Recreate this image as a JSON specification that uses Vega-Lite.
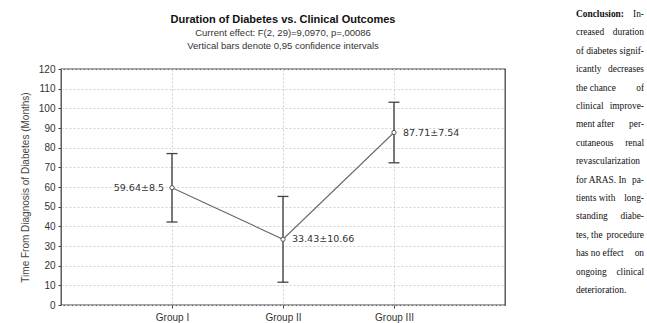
{
  "$schema": "https://vega.github.io/schema/vega-lite/v6.json",
  "background": "white",
  "padding": {"left": 19, "top": 9, "right": 0, "bottom": 0},
  "bounds": "flush",
  "spacing": 71,
  "config": {
    "view": {"stroke": null},
    "font": "Liberation Sans",
    "axis": {
      "labelFont": "Liberation Sans",
      "labelFontSize": 10,
      "labelColor": "#333",
      "tickColor": "#444",
      "tickSize": 3,
      "domain": false,
      "grid": true,
      "gridColor": "#d2d2d2",
      "gridDash": [2, 2],
      "gridWidth": 1,
      "titleFont": "Liberation Sans",
      "titleFontSize": 10,
      "titleFontWeight": "normal",
      "titleColor": "#444"
    },
    "axisY": {"tickCount": 12, "labelPadding": 3, "titlePadding": 8},
    "axisX": {"labelPadding": 4}
  },
  "datasets": {
    "groups": [
      {"group": "Group I", "mean": 59.64, "lo": 42.2, "hi": 77.0, "label": "59.64±8.5"},
      {"group": "Group II", "mean": 33.43, "lo": 11.6, "hi": 55.2, "label": "33.43±10.66"},
      {"group": "Group III", "mean": 87.71, "lo": 72.3, "hi": 103.1, "label": "87.71±7.54"}
    ],
    "lines": [
      {"line": 0, "head": "Conclusion:", "tail": "In-"},
      {"line": 1, "head": "creased", "tail": "duration"},
      {"line": 2, "head": "of diabetes", "tail": "signif-"},
      {"line": 3, "head": "icantly", "tail": "decreases"},
      {"line": 4, "head": "the chance", "tail": "of"},
      {"line": 5, "head": "clinical", "tail": "improve-"},
      {"line": 6, "head": "ment after", "tail": "per-"},
      {"line": 7, "head": "cutaneous", "tail": "renal"},
      {"line": 8, "head": "revascularization", "tail": null},
      {"line": 9, "head": "for ARAS. In", "tail": "pa-"},
      {"line": 10, "head": "tients with", "tail": "long-"},
      {"line": 11, "head": "standing", "tail": "diabe-"},
      {"line": 12, "head": "tes, the", "tail": "procedure"},
      {"line": 13, "head": "has no effect", "tail": "on"},
      {"line": 14, "head": "ongoing", "tail": "clinical"},
      {"line": 15, "head": "deterioration.", "tail": null}
    ]
  },
  "hconcat": [
    {
      "width": 444,
      "height": 236,
      "title": {
        "text": "Duration of Diabetes vs. Clinical Outcomes",
        "subtitle": ["Current effect: F(2, 29)=9,0970, p=,00086", "Vertical bars denote 0,95 confidence intervals"],
        "anchor": "middle",
        "font": "Liberation Sans",
        "fontSize": 11,
        "fontWeight": "bold",
        "color": "#111",
        "subtitleFont": "Liberation Sans",
        "subtitleFontSize": 9.5,
        "subtitleColor": "#333",
        "subtitlePadding": 3,
        "subtitleLineHeight": 13,
        "offset": 14
      },
      "view": {"stroke": "#444", "strokeWidth": 1.3, "fill": "white"},
      "data": {"name": "groups"},
      "encoding": {
        "x": {
          "field": "group",
          "type": "nominal",
          "sort": null,
          "scale": {"type": "point", "padding": 1},
          "axis": {"title": null, "labelAngle": 0}
        }
      },
      "layer": [
        {
          "mark": {"type": "line", "color": "#6a6a6a", "strokeWidth": 1.1},
          "encoding": {
            "y": {"field": "mean", "type": "quantitative", "title": "Time From Diagnosis of Diabetes (Months)", "scale": {"domain": [0, 120], "nice": false, "zero": true}}
          }
        },
        {
          "mark": {"type": "rule", "color": "#444", "strokeWidth": 1.4},
          "encoding": {
            "y": {"field": "lo", "type": "quantitative", "title": "Time From Diagnosis of Diabetes (Months)"},
            "y2": {"field": "hi"}
          }
        },
        {
          "mark": {"type": "tick", "orient": "horizontal", "size": 11, "thickness": 1.3, "color": "#444", "opacity": 1},
          "encoding": {
            "y": {"field": "lo", "type": "quantitative", "title": "Time From Diagnosis of Diabetes (Months)"}
          }
        },
        {
          "mark": {"type": "tick", "orient": "horizontal", "size": 11, "thickness": 1.3, "color": "#444", "opacity": 1},
          "encoding": {
            "y": {"field": "hi", "type": "quantitative", "title": "Time From Diagnosis of Diabetes (Months)"}
          }
        },
        {
          "mark": {"type": "point", "shape": "circle", "filled": true, "fill": "white", "stroke": "#555", "strokeWidth": 1, "size": 18, "opacity": 1},
          "encoding": {
            "y": {"field": "mean", "type": "quantitative", "title": "Time From Diagnosis of Diabetes (Months)"}
          }
        },
        {
          "transform": [{"filter": "datum.group === 'Group I'"}],
          "mark": {"type": "text", "align": "right", "baseline": "middle", "dx": -8, "font": "DejaVu Sans", "fontSize": 9.5, "color": "#333"},
          "encoding": {
            "y": {"field": "mean", "type": "quantitative", "title": "Time From Diagnosis of Diabetes (Months)"},
            "text": {"field": "label"}
          }
        },
        {
          "transform": [{"filter": "datum.group !== 'Group I'"}],
          "mark": {"type": "text", "align": "left", "baseline": "middle", "dx": 9, "font": "DejaVu Sans", "fontSize": 9.5, "color": "#333"},
          "encoding": {
            "y": {"field": "mean", "type": "quantitative", "title": "Time From Diagnosis of Diabetes (Months)"},
            "text": {"field": "label"}
          }
        }
      ]
    },
    {
      "width": 68,
      "height": 236,
      "view": {"stroke": null},
      "data": {"name": "lines"},
      "encoding": {
        "y": {"field": "line", "type": "quantitative", "axis": null, "scale": {"domain": [2.99, 15.82], "reverse": true, "nice": false, "zero": false}}
      },
      "layer": [
        {
          "transform": [{"filter": "datum.line === 0"}],
          "mark": {"type": "text", "align": "left", "baseline": "middle", "font": "Liberation Serif", "fontSize": 9.4, "fontWeight": "bold", "color": "#111"},
          "encoding": {
            "x": {"datum": 0, "type": "quantitative", "axis": null, "scale": {"domain": [0, 1], "nice": false, "zero": false}},
            "text": {"field": "head"}
          }
        },
        {
          "transform": [{"filter": "datum.line > 0"}],
          "mark": {"type": "text", "align": "left", "baseline": "middle", "font": "Liberation Serif", "fontSize": 9.4, "color": "#111"},
          "encoding": {
            "x": {"datum": 0, "type": "quantitative", "axis": null},
            "text": {"field": "head"}
          }
        },
        {
          "transform": [{"filter": "datum.tail != null"}],
          "mark": {"type": "text", "align": "right", "baseline": "middle", "font": "Liberation Serif", "fontSize": 9.4, "color": "#111"},
          "encoding": {
            "x": {"datum": 1, "type": "quantitative", "axis": null},
            "text": {"field": "tail"}
          }
        }
      ]
    }
  ]
}
